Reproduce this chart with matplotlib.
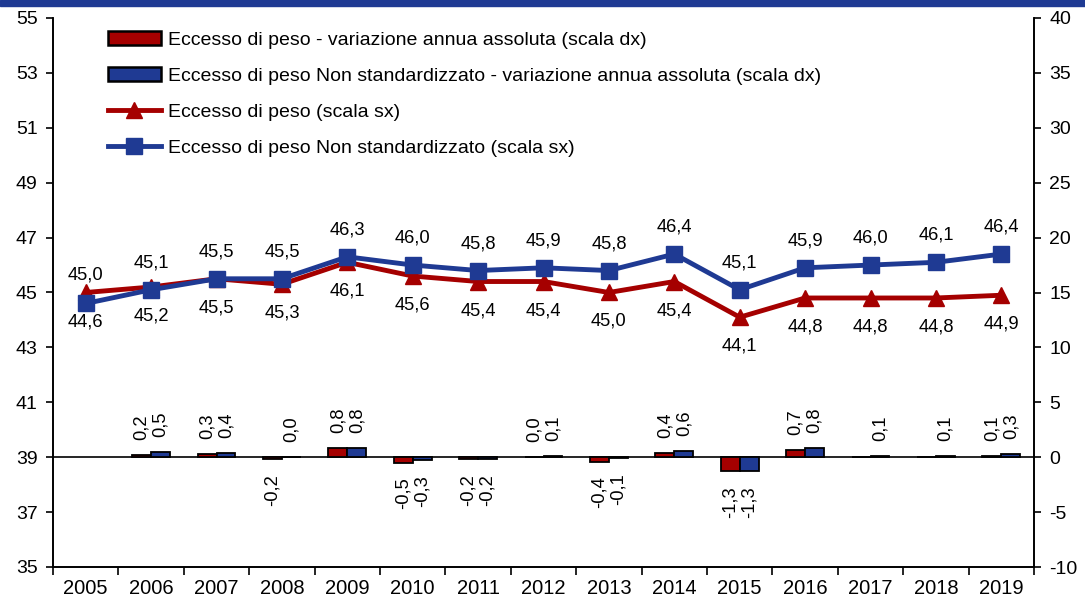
import math
import matplotlib
matplotlib.use("Agg")
import matplotlib.pyplot as plt
from matplotlib.patches import Rectangle, Patch
from matplotlib.lines import Line2D

plt.rcParams['font.family'] = ['Liberation Sans', 'DejaVu Sans']
plt.rcParams['axes.unicode_minus'] = False

# Dati
anni = [str(a) for a in range(2005, 2020)]
peso = [45.0, 45.2, 45.5, 45.3, 46.1, 45.6, 45.4, 45.4, 45.0, 45.4, 44.1, 44.8, 44.8, 44.8, 44.9]
peso_ns = [44.6, 45.1, 45.5, 45.5, 46.3, 46.0, 45.8, 45.9, 45.8, 46.4, 45.1, 45.9, 46.0, 46.1, 46.4]
var_peso = [math.nan, 0.2, 0.3, -0.2, 0.8, -0.5, -0.2, 0.0, -0.4, 0.4, -1.3, 0.7, 0.0, 0.0, 0.1]
var_ns = [math.nan, 0.5, 0.4, 0.0, 0.8, -0.3, -0.2, 0.1, -0.1, 0.6, -1.3, 0.8, 0.1, 0.1, 0.3]
nascosti_peso = ['2017', '2018']  # etichette non mostrate nel grafico originale
rosso_sopra = ['2005']  # anni in cui l'etichetta rossa sta sopra la linea

legenda = [
    'Eccesso di peso - variazione annua assoluta (scala dx)',
    'Eccesso di peso Non standardizzato - variazione annua assoluta (scala dx)',
    'Eccesso di peso (scala sx)',
    'Eccesso di peso Non standardizzato (scala sx)',
]

ROSSO = '#A50000'
BLU = '#1F3A93'
FS = 13.2


def fmt(v):
    return f"{v:.1f}".replace('.', ',')


fig = plt.figure(figsize=(10.85, 6.01), dpi=100)
ax = fig.add_axes([53 / 1085, 34 / 601, 981 / 1085, 549 / 601])
ax2 = ax.twinx()
ax.set_zorder(ax2.get_zorder() + 1)
ax.patch.set_visible(False)

# banda blu in alto
fig.patches.append(Rectangle((0, 1 - 6 / 601), 1, 6 / 601, transform=fig.transFigure,
                             color=BLU, zorder=0))

x = list(range(len(anni)))
w = 0.29

# barre (scala dx)
ax2.bar([i - w / 2 for i in x], var_peso, width=w, color=ROSSO, edgecolor='black', linewidth=1.3)
ax2.bar([i + w / 2 for i in x], var_ns, width=w, color=BLU, edgecolor='black', linewidth=1.3)
ax2.axhline(0, color='black', linewidth=1.2, zorder=0.5)

for i, (a, vp, vn) in enumerate(zip(anni, var_peso, var_ns)):
    for v, dx, skip in ((vp, -w / 2, a in nascosti_peso), (vn, w / 2, False)):
        if math.isnan(v) or skip:
            continue
        if v >= 0:
            ax2.annotate(fmt(v), (i + dx, v), xytext=(0, 15), textcoords='offset pixels',
                         rotation=90, ha='center', va='bottom', fontsize=FS)
        else:
            ax2.annotate(fmt(v), (i + dx, v), xytext=(0, -15), textcoords='offset pixels',
                         rotation=90, ha='center', va='top', fontsize=FS)

# linee (scala sx)
ax.plot(x, peso, color=ROSSO, linewidth=3.5, marker='^', markersize=12)
ax.plot(x, peso_ns, color=BLU, linewidth=3.5, marker='s', markersize=12)

for i, (a, vp, vn) in enumerate(zip(anni, peso, peso_ns)):
    if a in rosso_sopra:
        su, giu, off = vp, vn, 17
    else:
        su, giu, off = vn, vp, 27
    ax.annotate(fmt(su), (i, su), xytext=(0, off), textcoords='offset pixels',
                ha='center', va='center', fontsize=FS)
    ax.annotate(fmt(giu), (i, giu), xytext=(0, -off - 2), textcoords='offset pixels',
                ha='center', va='center', fontsize=FS)

# assi
ax.set_xlim(-0.5, len(anni) - 0.5)
ax.set_ylim(35, 55)
ax.set_yticks(range(35, 56, 2))
ax2.set_ylim(-10, 40)
ax2.set_yticks(range(-10, 41, 5))
ax.set_xticks(x)
ax.set_xticklabels(anni)
ax.set_xticks([i - 0.5 for i in range(len(anni) + 1)], minor=True)
ax.tick_params(axis='x', which='major', length=0, pad=9, labelsize=14.5)
ax.tick_params(axis='x', which='minor', length=6, width=1.2)
ax.tick_params(axis='y', length=5, width=1.2, labelsize=14, pad=6)
ax2.tick_params(axis='y', length=5, width=1.2, labelsize=14, pad=6)

for a in (ax, ax2):
    a.spines['top'].set_visible(False)
    for s in ('left', 'right', 'bottom'):
        a.spines[s].set_linewidth(1.2)

handles = [
    Patch(facecolor=ROSSO, edgecolor='black', linewidth=1.8),
    Patch(facecolor=BLU, edgecolor='black', linewidth=1.8),
    Line2D([], [], color=ROSSO, linewidth=3.5, marker='^', markersize=12),
    Line2D([], [], color=BLU, linewidth=3.5, marker='s', markersize=12),
]
ax.legend(handles, legenda, loc='upper left', bbox_to_anchor=(108 / 1085, 1 - 31 / 601),
          bbox_transform=fig.transFigure, frameon=False, fontsize=14,
          handlelength=2.7, handletextpad=0.4, labelspacing=0.95, borderpad=0,
          borderaxespad=0)

fig.savefig('out.png', dpi=100)
